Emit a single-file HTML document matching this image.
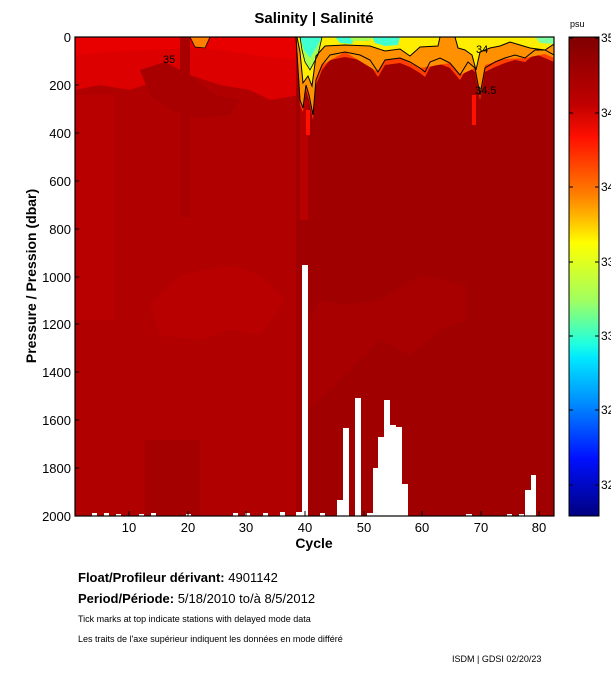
<!DOCTYPE html>
<html><head><meta charset="utf-8"><style>
body{margin:0;background:#fff;width:611px;height:675px;overflow:hidden;font-family:"Liberation Sans",sans-serif}
</style></head><body>
<svg width="611" height="675" viewBox="0 0 611 675" xmlns="http://www.w3.org/2000/svg" font-family="Liberation Sans, sans-serif">
<defs>
<clipPath id="pc"><rect x="75" y="37" width="479" height="479"/></clipPath>
<linearGradient id="cb" x1="0" y1="0" x2="0" y2="1">
<stop offset="0" stop-color="#800000"/>
<stop offset="0.14" stop-color="#c00000"/>
<stop offset="0.21" stop-color="#ff1000"/>
<stop offset="0.33" stop-color="#ff8000"/>
<stop offset="0.37" stop-color="#ffb000"/>
<stop offset="0.43" stop-color="#ffff00"/>
<stop offset="0.55" stop-color="#a0ff60"/>
<stop offset="0.64" stop-color="#20ffe0"/>
<stop offset="0.67" stop-color="#00e8ff"/>
<stop offset="0.76" stop-color="#0090ff"/>
<stop offset="0.88" stop-color="#0010ff"/>
<stop offset="1" stop-color="#000080"/>
</linearGradient>
</defs>
<text x="314" y="23" font-size="15" font-weight="bold" text-anchor="middle">Salinity | Salinité</text>
<g clip-path="url(#pc)">
<rect x="75" y="37" width="479" height="479" fill="#b00000"/>
<polygon points="75,37 300,37 300,95 270,100 250,90 220,85 190,75 160,80 130,90 100,85 75,90" fill="#dc0000"/>
<polygon points="75,37 300,37 300,60 250,55 220,50 190,48 150,50 110,52 75,55" fill="#e80000"/>
<polygon points="140,70 165,62 190,75 215,95 240,100 230,115 200,118 170,110 150,95" fill="#a80000"/>
<rect x="75" y="95" width="40" height="225" fill="#b80000"/>
<polygon points="150,305 180,275 230,265 260,275 285,300 260,335 230,330 200,340 160,335" fill="#b80000"/>
<rect x="180" y="37" width="10" height="180" fill="#a80000"/>
<!-- right dark region -->
<polygon points="296,37 554,37 554,516 296,516" fill="#a00000"/>
<polygon points="305,330 320,300 345,305 380,300 420,275 466,285 466,320 440,330 410,355 380,340 350,370 320,400 305,410" fill="#a80000"/>
<rect x="145" y="440" width="55" height="76" fill="#a40000"/>
<rect x="300" y="100" width="8" height="120" fill="#b80000"/>
<rect x="306" y="110" width="4" height="25" fill="#ff1000"/>
<rect x="472" y="95" width="4" height="30" fill="#ff1000"/>
<!-- surface orange layer -->
<polygon points="296,37 554,37 554,62 545,58 535,54 525,62 515,60 505,63 495,67 485,72 480,100 475,72 468,66 460,80 450,68 440,64 430,67 425,77 420,73 410,67 400,63 385,65 378,77 370,65 360,60 345,57 330,60 322,70 316,85 313,120 309,100 306,90 303,112 300,105" fill="#ff4000"/>
<polygon points="296,37 554,37 554,58 545,54 525,58 505,59 485,65 480,95 475,68 460,75 450,63 420,68 400,58 385,60 378,72 345,52 322,65 316,80 313,115 309,95 306,85 303,108 300,100" fill="#ff9000"/>
<!-- yellow layer -->
<polygon points="297,37 440,37 438,46 420,47 410,56 400,49 385,51 370,46 345,45 325,46 316,56 312,86 308,76 303,83 300,52" fill="#ffee00"/>
<polygon points="455,37 554,37 554,44 545,50 530,48 520,45 510,42 500,46 490,48 480,52 476,70 472,55 465,50 458,48" fill="#ffee00"/>
<polygon points="300,37 322,37 318,55 310,70 305,62 302,50" fill="#a8ff50"/>
<polygon points="300,37 322,37 316,48 310,58 304,50" fill="#40ffd0"/>
<polygon points="335,37 355,37 352,44 340,43" fill="#40ffd0"/>
<polygon points="372,37 400,37 398,45 385,46 375,43" fill="#40ffd0"/>
<polygon points="350,37 372,37 370,41 352,41" fill="#a8ff50"/>
<polygon points="535,37 554,37 554,44 540,43" fill="#80ffa0"/>
<polygon points="190,37 210,37 205,48 195,47" fill="#ff8000"/>
<!-- contour lines -->
<polyline points="296,37 300,100 303,108 306,85 309,95 313,115 316,80 322,65 330,55 345,52 360,55 370,60 378,72 385,60 400,58 410,62 420,68 425,72 430,62 440,58 450,63 460,75 468,62 475,68 480,95 485,68 495,62 505,58 515,55 525,58 535,50 545,50 554,55" fill="none" stroke="#000" stroke-width="1"/>
<polyline points="297,37 300,52 303,83 308,76 312,86 316,56 325,46 345,45 370,46 385,51 400,49 410,56 420,47 438,46 440,37" fill="none" stroke="#000" stroke-width="1"/>
<polyline points="455,37 458,48 465,50 472,55 476,70 480,52 490,48 500,46 510,42 520,45 530,48 545,50 554,44" fill="none" stroke="#000" stroke-width="1"/>
<polyline points="300,37 302,50 305,62 310,70 318,55 322,37" fill="none" stroke="#000" stroke-width="0.8"/>
<polyline points="190,37 195,47 205,48 210,37" fill="none" stroke="#000" stroke-width="0.8"/>
<!-- white gaps -->
<g fill="#fff">
<rect x="302" y="265" width="6" height="251"/>
<rect x="337" y="500" width="6" height="16"/>
<rect x="343" y="428" width="6" height="88"/>
<rect x="355" y="398" width="6" height="118"/>
<rect x="367" y="513" width="6" height="3"/>
<rect x="373" y="468" width="5" height="48"/>
<rect x="378" y="437" width="6" height="79"/>
<rect x="384" y="400" width="6" height="116"/>
<rect x="390" y="425" width="6" height="91"/>
<rect x="396" y="427" width="6" height="89"/>
<rect x="402" y="484" width="6" height="32"/>
<rect x="525" y="490" width="6" height="26"/>
<rect x="531" y="475" width="5" height="41"/>
<rect x="92" y="513" width="5" height="3"/><rect x="104" y="513" width="5" height="3"/><rect x="116" y="514" width="5" height="2"/><rect x="139" y="514" width="5" height="2"/><rect x="151" y="513" width="5" height="3"/><rect x="186" y="514" width="5" height="2"/><rect x="233" y="513" width="5" height="3"/><rect x="245" y="513" width="5" height="3"/><rect x="263" y="513" width="5" height="3"/><rect x="280" y="512" width="5" height="4"/><rect x="296" y="512" width="6" height="4"/>
<rect x="320" y="513" width="5" height="3"/><rect x="466" y="514" width="6" height="2"/><rect x="507" y="514" width="5" height="2"/><rect x="519" y="514" width="5" height="2"/>
</g>
</g>
<text x="163" y="63" font-size="11">35</text>
<text x="476" y="53" font-size="11">34</text>
<text x="475" y="94" font-size="11">34.5</text>
<rect x="75" y="37" width="479" height="479" fill="none" stroke="#000" stroke-width="1.2"/>
<g stroke="#000" stroke-width="1">
<line x1="129" y1="516" x2="129" y2="511"/><line x1="188" y1="516" x2="188" y2="511"/><line x1="246" y1="516" x2="246" y2="511"/><line x1="305" y1="516" x2="305" y2="511"/><line x1="364" y1="516" x2="364" y2="511"/><line x1="422" y1="516" x2="422" y2="511"/><line x1="481" y1="516" x2="481" y2="511"/><line x1="539" y1="516" x2="539" y2="511"/>
<line x1="75" y1="85" x2="79" y2="85"/><line x1="75" y1="133" x2="79" y2="133"/><line x1="75" y1="181" x2="79" y2="181"/><line x1="75" y1="229" x2="79" y2="229"/><line x1="75" y1="277" x2="79" y2="277"/><line x1="75" y1="324" x2="79" y2="324"/><line x1="75" y1="372" x2="79" y2="372"/><line x1="75" y1="420" x2="79" y2="420"/><line x1="75" y1="468" x2="79" y2="468"/>
</g>
<g font-size="13" text-anchor="end">
<text x="71" y="42">0</text><text x="71" y="90">200</text><text x="71" y="138">400</text><text x="71" y="186">600</text><text x="71" y="234">800</text><text x="71" y="282">1000</text><text x="71" y="329">1200</text><text x="71" y="377">1400</text><text x="71" y="425">1600</text><text x="71" y="473">1800</text><text x="71" y="521">2000</text>
</g>
<g font-size="13" text-anchor="middle">
<text x="129" y="532">10</text><text x="188" y="532">20</text><text x="246" y="532">30</text><text x="305" y="532">40</text><text x="364" y="532">50</text><text x="422" y="532">60</text><text x="481" y="532">70</text><text x="539" y="532">80</text>
</g>
<text x="314" y="548" font-size="14" font-weight="bold" text-anchor="middle">Cycle</text>
<text transform="translate(36,276) rotate(-90)" font-size="14" font-weight="bold" text-anchor="middle">Pressure / Pression (dbar)</text>
<text x="570" y="27" font-size="9">psu</text>
<rect x="569" y="37" width="30" height="479" fill="url(#cb)" stroke="#000" stroke-width="1"/>
<g stroke="#000" stroke-width="1">
<line x1="569" y1="38" x2="573" y2="38"/><line x1="595" y1="38" x2="599" y2="38"/>
<line x1="569" y1="113" x2="573" y2="113"/><line x1="595" y1="113" x2="599" y2="113"/>
<line x1="569" y1="187" x2="573" y2="187"/><line x1="595" y1="187" x2="599" y2="187"/>
<line x1="569" y1="262" x2="573" y2="262"/><line x1="595" y1="262" x2="599" y2="262"/>
<line x1="569" y1="336" x2="573" y2="336"/><line x1="595" y1="336" x2="599" y2="336"/>
<line x1="569" y1="410" x2="573" y2="410"/><line x1="595" y1="410" x2="599" y2="410"/>
<line x1="569" y1="485" x2="573" y2="485"/><line x1="595" y1="485" x2="599" y2="485"/>
</g>
<g font-size="12">
<text x="601" y="42">35</text><text x="601" y="117">34.5</text><text x="601" y="191">34</text><text x="601" y="266">33.5</text><text x="601" y="340">33</text><text x="601" y="414">32.5</text><text x="601" y="489">32</text>
</g>
<text x="78" y="582" font-size="13"><tspan font-weight="bold">Float/Profileur dérivant: </tspan>4901142</text>
<text x="78" y="603" font-size="13"><tspan font-weight="bold">Period/Période: </tspan>5/18/2010  to/à  8/5/2012</text>
<text x="78" y="622" font-size="9">Tick marks at top indicate stations with delayed mode data</text>
<text x="78" y="642" font-size="9">Les traits de l'axe supérieur indiquent les données en mode différé</text>
<text x="452" y="662" font-size="9">ISDM | GDSI 02/20/23</text>
</svg>
</body></html>
